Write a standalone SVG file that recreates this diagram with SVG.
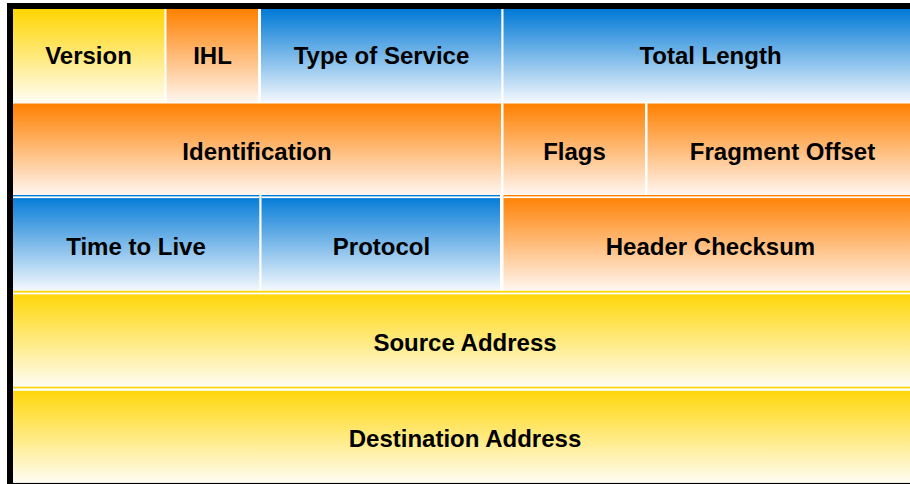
<svg xmlns="http://www.w3.org/2000/svg" width="910" height="484" viewBox="0 0 910 484">
<defs>
<linearGradient id="gY" x1="0" y1="0" x2="0" y2="1">
<stop offset="0" stop-color="#FFD500"/>
<stop offset="1" stop-color="#FFFDF4"/>
</linearGradient>
<linearGradient id="gO" x1="0" y1="0" x2="0" y2="1">
<stop offset="0" stop-color="#FF8000"/>
<stop offset="1" stop-color="#FFF6F0"/>
</linearGradient>
<linearGradient id="gB" x1="0" y1="0" x2="0" y2="1">
<stop offset="0" stop-color="#0079D6"/>
<stop offset="1" stop-color="#F4F8FD"/>
</linearGradient>
</defs>
<style>
.y{fill:url(#gY)}
.o{fill:url(#gO)}
.b{fill:url(#gB)}
.sep{fill:#FFFFFF}
text{font-family:"Liberation Sans",Arial,sans-serif;font-weight:bold;font-size:24px;fill:#000;text-anchor:middle}
</style>
<rect x="7" y="3" width="910" height="490" fill="#000"/>
<rect x="13" y="9" width="904" height="473.7" fill="#FFFFFF"/>

<g id="version"><rect class="y" x="13" y="9" width="151.5" height="93.5"/><text x="88.5" y="63.5">Version</text></g>
<g id="ihl"><rect class="o" x="166.5" y="9" width="91.5" height="93.5"/><text x="212.5" y="63.5">IHL</text></g>
<g id="type-of-service"><rect class="b" x="261" y="9" width="240.3" height="93.5"/><text x="381.5" y="63.5">Type of Service</text></g>
<g id="total-length"><rect class="b" x="503.5" y="9" width="413.5" height="93.5"/><text x="710.5" y="63.5">Total Length</text></g>

<g id="identification"><rect class="o" x="13" y="103.5" width="488" height="91.5"/><text x="257" y="160">Identification</text></g>
<g id="flags"><rect class="o" x="503.5" y="103.5" width="141.5" height="91.5"/><text x="574.5" y="160">Flags</text></g>
<g id="fragment-offset"><rect class="o" x="647.5" y="103.5" width="269.5" height="91.5"/><text x="782.5" y="160">Fragment Offset</text></g>

<g id="time-to-live"><rect class="b" x="13" y="195" width="246.3" height="95.5"/><rect class="sep" x="13" y="196.4" width="246.3" height="1.7"/><text x="136" y="255">Time to Live</text></g>
<g id="protocol"><rect class="b" x="261.5" y="195" width="238.5" height="95.5"/><rect class="sep" x="261.5" y="196.4" width="238.5" height="1.7"/><text x="381.5" y="255">Protocol</text></g>
<g id="header-checksum"><rect class="o" x="503.5" y="195" width="413.5" height="95.5"/><rect class="sep" x="503.5" y="196.4" width="413.5" height="1.7"/><text x="710.5" y="255">Header Checksum</text></g>

<g id="source-address"><rect class="y" x="13" y="290.8" width="904" height="95.9"/><rect class="sep" x="13" y="292.6" width="904" height="1.8"/><text x="465" y="351">Source Address</text></g>
<g id="destination-address"><rect class="y" x="13" y="386.7" width="904" height="96"/><rect class="sep" x="13" y="388.4" width="904" height="2.4"/><text x="465" y="447">Destination Address</text></g>

<g id="connectors"></g>
</svg>
